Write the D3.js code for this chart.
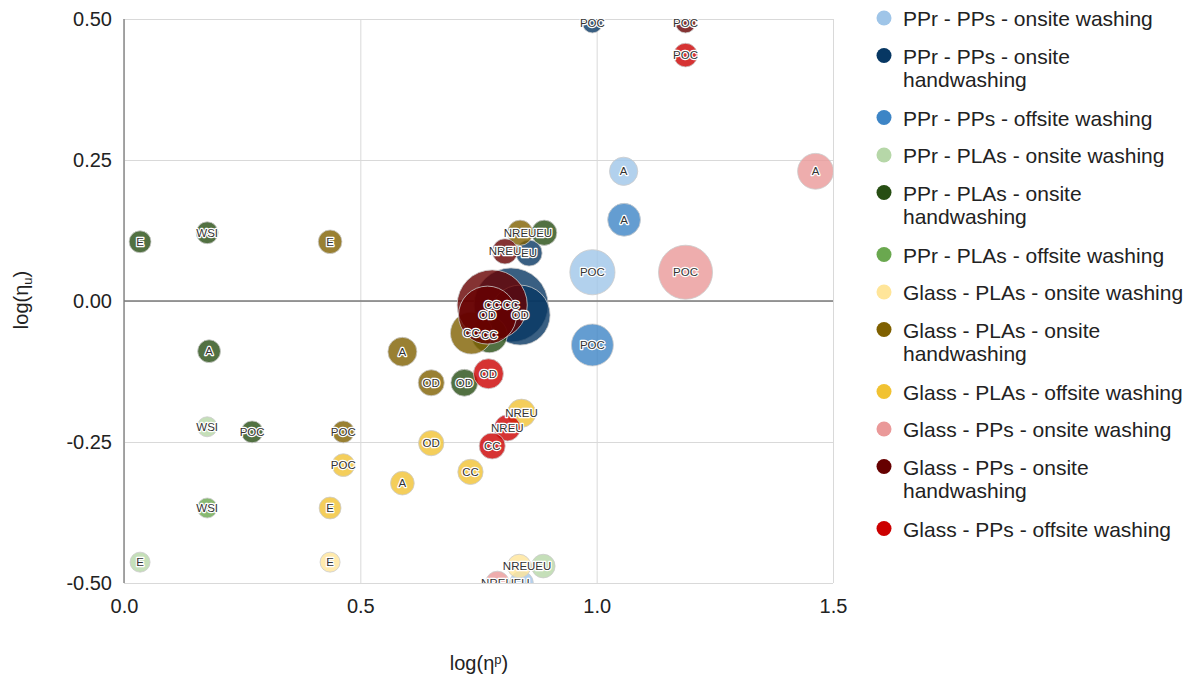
<!DOCTYPE html>
<html>
<head>
<meta charset="utf-8">
<script src="https://cdn.jsdelivr.net/npm/d3@7"></script>
<style>
  body { margin: 0; background: #fff; }
  svg { display: block; font-family: "Liberation Sans", Arial, sans-serif; }
</style>
</head>
<body>
<svg id="chart" width="1196" height="678"></svg>
<script>
// Series (packaging system - cup material - washing scenario)
const seriesNames = [
  "PPr - PPs - onsite washing",
  "PPr - PPs - onsite handwashing",
  "PPr - PPs - offsite washing",
  "PPr - PLAs - onsite washing",
  "PPr - PLAs - onsite handwashing",
  "PPr - PLAs - offsite washing",
  "Glass - PLAs - onsite washing",
  "Glass - PLAs - onsite handwashing",
  "Glass - PLAs - offsite washing",
  "Glass - PPs - onsite washing",
  "Glass - PPs - onsite handwashing",
  "Glass - PPs - offsite washing"
];
const seriesColors = [
  "#9fc5e8", "#073763", "#3d85c6",
  "#b6d7a8", "#274e13", "#6aa84f",
  "#ffe599", "#7f6000", "#f1c232",
  "#ea9999", "#660000", "#cc0000"
];

// One entry per bubble: series index, impact category, log(eta_p), log(eta_u), bubble size
const pointSeries = [
  0, 0, 0,
  1, 1, 1, 1,
  2, 2,
  3, 3, 3,
  4, 4, 4, 4, 4, 4, 4,
  5,
  6, 6,
  7, 7, 7, 7, 7, 7,
  8, 8, 8, 8, 8, 8,
  9, 9, 9,
  10, 10, 10, 10,
  11, 11, 11, 11
];
const pointLabels = [
  "A", "POC", "EU",
  "POC", "CC", "OD", "EU",
  "A", "POC",
  "WSI", "E", "EU",
  "E", "WSI", "A", "POC", "OD", "CC", "EU",
  "WSI",
  "E", "NREU",
  "E", "A", "OD", "POC", "CC", "NREU",
  "E", "POC", "A", "OD", "CC", "NREU",
  "A", "POC", "NREU",
  "POC", "NREU", "CC", "OD",
  "POC", "OD", "NREU", "CC"
];
const pointX = [
  1.057, 0.991, 0.841,
  0.991, 0.819, 0.838, 0.857,
  1.058, 0.991,
  0.176, 0.034, 0.887,
  0.034, 0.176, 0.180, 0.271, 0.720, 0.773, 0.889,
  0.176,
  0.436, 0.836,
  0.436, 0.589, 0.650, 0.464, 0.735, 0.838,
  0.436, 0.464, 0.589, 0.650, 0.733, 0.841,
  1.463, 1.188, 0.790,
  1.188, 0.806, 0.779, 0.769,
  1.188, 0.771, 0.811, 0.779
];
const pointY = [
  0.230, 0.051, -0.500,
  0.493, -0.007, -0.025, 0.085,
  0.144, -0.078,
  -0.223, -0.463, -0.470,
  0.105, 0.121, -0.089, -0.232, -0.145, -0.060, 0.121,
  -0.367,
  -0.463, -0.470,
  0.105, -0.090, -0.145, -0.232, -0.057, 0.121,
  -0.367, -0.291, -0.323, -0.252, -0.303, -0.199,
  0.230, 0.051, -0.500,
  0.493, 0.088, -0.007, -0.025,
  0.436, -0.129, -0.225, -0.257
];
const pointSize = [
  2.0, 5.1, 1.4,
  1.0, 13.7, 9.0, 1.7,
  2.7, 4.4,
  1.0, 1.0, 1.4,
  1.2, 1.2, 1.3, 1.2, 1.8, 3.2, 1.6,
  1.0,
  1.0, 1.4,
  1.4, 2.1, 1.7, 1.2, 4.4, 1.6,
  1.2, 1.3, 1.4, 1.6, 1.6, 2.0,
  3.2, 7.3, 1.4,
  1.0, 1.6, 12.3, 8.4,
  1.4, 2.25, 1.7, 1.7
];

const xTicks = [0, 0.5, 1.0, 1.5];
const yTicks = [-0.5, -0.25, 0, 0.25, 0.5];

const plot = { left: 124, right: 833, top: 19, bottom: 583 };
const x = d3.scaleLinear().domain([0, 1.5]).range([plot.left, plot.right]);
const y = d3.scaleLinear().domain([-0.5, 0.5]).range([plot.bottom, plot.top]);
const r = d3.scaleSqrt().domain([0, 16]).range([0, 40]);

const svg = d3.select("#chart");
svg.append("rect").attr("width", 1196).attr("height", 678).attr("fill", "#fff");

const defs = svg.append("defs");
defs.append("clipPath").attr("id", "plotClip")
  .append("rect")
  .attr("x", plot.left).attr("y", plot.top)
  .attr("width", plot.right - plot.left).attr("height", plot.bottom - plot.top);
defs.append("clipPath").attr("id", "labelClip")
  .append("rect")
  .attr("x", plot.left).attr("y", 0)
  .attr("width", plot.right - plot.left).attr("height", plot.bottom);

// Grid + tick labels via d3 axes
const yAxis = svg.append("g")
  .attr("transform", `translate(${plot.left},0)`)
  .call(d3.axisLeft(y).tickValues(yTicks)
    .tickSize(-(plot.right - plot.left)).tickPadding(12)
    .tickFormat(d => d.toFixed(2)));
const xAxis = svg.append("g")
  .attr("transform", `translate(0,${plot.bottom})`)
  .call(d3.axisBottom(x).tickValues(xTicks)
    .tickSize(-(plot.bottom - plot.top)).tickPadding(16)
    .tickFormat(d => d.toFixed(1)));

[yAxis, xAxis].forEach(g => {
  g.select(".domain").remove();
  g.selectAll(".tick line").attr("stroke", "#d9d9d9").attr("stroke-width", 1);
  g.selectAll(".tick text")
    .attr("fill", "#222")
    .style("font-size", "20px")
    .style("font-family", "\"Liberation Sans\", Arial, sans-serif");
});

// Baselines at x = 0 and y = 0
svg.append("line")
  .attr("x1", x(0)).attr("x2", x(0))
  .attr("y1", plot.top).attr("y2", plot.bottom)
  .attr("stroke", "#8a8a8a").attr("stroke-width", 1.5);
svg.append("line")
  .attr("x1", plot.left).attr("x2", plot.right)
  .attr("y1", y(0)).attr("y2", y(0))
  .attr("stroke", "#7a7a7a").attr("stroke-width", 1.5);

// Bubbles
const points = pointSeries.map((s, i) => ({
  s, label: pointLabels[i], x: pointX[i], y: pointY[i], size: pointSize[i]
}));

svg.append("g").attr("clip-path", "url(#plotClip)")
  .selectAll("circle")
  .data(points)
  .join("circle")
  .attr("cx", d => x(d.x))
  .attr("cy", d => y(d.y))
  .attr("r", d => r(d.size))
  .attr("fill", d => seriesColors[d.s])
  .attr("fill-opacity", 0.8)
  .attr("stroke", "#cccccc")
  .attr("stroke-opacity", 0.8)
  .attr("stroke-width", 1);

svg.append("g").attr("clip-path", "url(#labelClip)")
  .selectAll("text")
  .data(points)
  .join("text")
  .attr("x", d => x(d.x))
  .attr("y", d => y(d.y))
  .attr("text-anchor", "middle")
  .attr("dominant-baseline", "central")
  .style("font-size", "11.5px")
  .attr("fill", "#333")
  .attr("stroke", "#fff")
  .attr("stroke-width", 2.5)
  .attr("stroke-linejoin", "round")
  .attr("paint-order", "stroke")
  .text(d => d.label);

// Axis titles
const xTitle = svg.append("text")
  .attr("x", 479).attr("y", 670)
  .attr("text-anchor", "middle")
  .attr("fill", "#222")
  .style("font-size", "20px");
xTitle.append("tspan").text("log(η");
xTitle.append("tspan").attr("dy", -6).style("font-size", "13px").text("p");
xTitle.append("tspan").attr("dy", 6).text(")");

const yTitle = svg.append("text")
  .attr("transform", "translate(28,300) rotate(-90)")
  .attr("text-anchor", "middle")
  .attr("fill", "#222")
  .style("font-size", "20px");
yTitle.append("tspan").text("log(η");
yTitle.append("tspan").attr("dy", 4).style("font-size", "13px").text("u");
yTitle.append("tspan").attr("dy", -4).text(")");

// Legend
const legend = svg.append("g");
const legendX = 903, maxWidth = 290;
let ly = 18;
seriesNames.forEach((name, i) => {
  legend.append("circle")
    .attr("cx", 884).attr("cy", ly).attr("r", 7.5)
    .attr("fill", seriesColors[i]);
  const t = legend.append("text")
    .attr("x", legendX).attr("y", ly)
    .attr("dominant-baseline", "central")
    .attr("fill", "#222")
    .style("font-size", "21px");
  const words = name.split(" ");
  let line = [];
  let lineNo = 0;
  let tspan = t.append("tspan").attr("x", legendX).attr("y", ly);
  words.forEach(w => {
    line.push(w);
    tspan.text(line.join(" "));
    if (tspan.node().getComputedTextLength() > maxWidth && line.length > 1) {
      line.pop();
      tspan.text(line.join(" "));
      line = [w];
      lineNo++;
      tspan = t.append("tspan").attr("x", legendX).attr("y", ly + lineNo * 23.5).text(w);
    }
  });
  ly += 37.5 + lineNo * 24.5;
});
</script>
</body>
</html>
